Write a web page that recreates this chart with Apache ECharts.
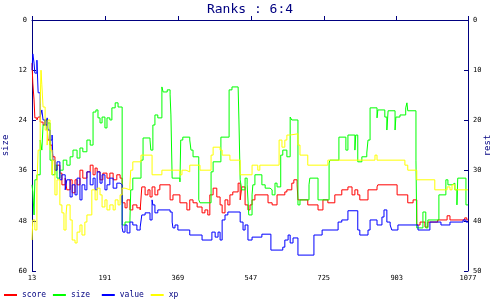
<!DOCTYPE html>
<html>
<head>
<meta charset="utf-8">
<script src="https://cdn.jsdelivr.net/npm/echarts@6/dist/echarts.min.js"></script>
<style>html,body{margin:0;padding:0;background:#fff}#c{width:500px;height:300px}</style>
</head>
<body>
<div id="c"></div>
<script>
var titleText = 'Ranks : 6:4';
var seriesNames = ['score', 'size', 'value', 'xp'];
var xTicks = [13, 191, 369, 547, 725, 903, 1077];
var leftTicks = [0, 12, 24, 36, 48, 60];
var rightTicks = [0, 10, 20, 30, 40, 50];

var scoreData = [[13,10.3],[15,15.1],[18,19.1],[20,23.4],[25,23.9],[28,23.2],[33,24.4],[40,25.1],[45,23.9],[50,25.6],[52,28.7],[57,29.9],[62,31.1],[64,32.7],[69,35.9],[74,34.7],[81,36.6],[86,39.4],[94,37.8],[98,40.6],[106,38.2],[111,41.3],[118,38.2],[123,39.4],[130,35.9],[137,37.8],[147,36.3],[155,34.7],[162,37.0],[167,35.4],[172,36.3],[179,38.2],[186,36.6],[196,37.8],[203,36.6],[211,38.2],[220,37.0],[228,37.8],[233,43.7],[240,44.9],[245,43.0],[252,45.4],[259,44.2],[269,44.9],[277,45.4],[281,39.9],[289,41.8],[296,40.6],[301,42.3],[306,39.9],[313,41.8],[320,40.6],[325,39.4],[350,43.0],[357,41.8],[374,43.7],[391,45.4],[398,43.0],[406,43.7],[416,44.7],[428,46.1],[435,45.4],[442,46.6],[447,41.8],[455,40.2],[464,42.3],[472,44.2],[477,46.1],[484,43.0],[491,44.2],[496,41.8],[503,41.1],[516,39.0],[521,43.0],[525,39.9],[533,44.2],[540,45.4],[545,44.2],[550,43.0],[557,41.8],[589,43.7],[599,44.2],[611,41.8],[630,41.1],[635,40.6],[647,39.0],[652,38.2],[660,39.4],[662,43.0],[686,44.2],[711,45.4],[723,43.0],[735,43.7],[752,41.8],[769,40.6],[784,39.9],[794,41.8],[801,40.6],[808,41.8],[813,43.0],[833,40.6],[855,39.9],[857,39.4],[904,41.8],[930,43.7],[943,43.0],[952,49.0],[960,48.3],[972,49.5],[979,48.3],[1003,47.8],[1026,46.8],[1033,47.8],[1069,47.3],[1074,47.8],[1077,47.8]];

var sizeData = [[13,39.4],[15,41.1],[18,46.6],[20,38.2],[25,37.0],[33,28.7],[37,31.1],[40,25.1],[45,23.9],[50,26.3],[52,24.6],[57,33.5],[62,37.0],[69,34.7],[74,37.8],[81,35.9],[89,33.5],[98,34.7],[106,32.7],[113,31.1],[123,33.0],[130,30.6],[137,31.5],[147,28.7],[155,29.9],[162,22.0],[169,21.5],[174,23.4],[179,24.6],[184,23.2],[191,25.8],[196,23.4],[203,23.9],[208,21.0],[216,19.8],[223,20.8],[233,49.0],[240,48.3],[252,47.8],[254,40.6],[259,37.8],[279,33.5],[284,28.2],[301,28.7],[303,31.1],[308,25.1],[313,22.7],[320,23.4],[330,16.0],[333,17.2],[343,16.7],[350,17.9],[352,22.7],[355,37.8],[374,38.7],[376,28.7],[381,28.0],[398,28.7],[401,31.1],[406,32.7],[420,43.0],[423,43.7],[450,36.3],[455,33.9],[474,28.0],[494,16.7],[501,16.0],[516,16.3],[518,23.9],[521,38.2],[525,40.6],[533,37.8],[538,39.4],[542,46.6],[550,41.8],[552,39.4],[557,37.0],[574,39.4],[582,40.2],[594,40.6],[599,41.8],[606,39.0],[611,39.9],[620,32.3],[625,31.1],[635,32.7],[643,23.2],[647,23.9],[662,44.2],[667,43.0],[689,39.4],[691,37.8],[711,43.0],[738,34.2],[740,33.5],[762,28.0],[779,31.1],[784,27.5],[801,31.1],[803,27.5],[808,33.9],[818,32.7],[830,31.8],[833,28.7],[838,21.0],[855,23.4],[857,21.5],[874,23.2],[879,26.3],[882,21.7],[899,26.3],[901,23.2],[911,22.7],[925,21.0],[928,19.8],[930,21.7],[950,33.5],[952,49.7],[967,45.9],[974,49.7],[979,47.8],[1006,41.8],[1023,38.2],[1028,39.4],[1038,39.0],[1045,40.6],[1050,44.2],[1052,37.8],[1072,44.2],[1077,44.2]];

var valueData = [[13,12.0],[15,8.1],[18,10.3],[20,12.7],[25,9.6],[28,17.4],[33,23.2],[37,21.5],[40,23.9],[45,25.1],[50,23.4],[52,26.3],[57,28.7],[62,27.5],[64,33.5],[69,35.9],[74,33.9],[81,38.2],[86,37.0],[94,40.6],[98,38.2],[106,42.3],[111,39.4],[118,41.8],[123,37.8],[130,43.0],[135,39.4],[142,40.6],[147,36.3],[155,39.4],[162,37.8],[167,40.6],[172,36.3],[179,39.0],[184,37.0],[191,40.6],[196,39.4],[203,37.8],[211,40.2],[220,39.0],[228,39.4],[233,49.7],[235,50.7],[240,49.0],[245,50.9],[252,48.3],[259,49.0],[269,50.2],[277,49.5],[281,46.6],[289,46.1],[301,47.8],[306,43.0],[308,44.2],[313,46.1],[320,45.4],[350,45.9],[355,48.3],[357,49.7],[362,49.0],[369,50.2],[398,51.4],[428,52.6],[452,50.7],[460,51.9],[467,50.7],[472,52.6],[477,47.8],[484,46.6],[491,45.9],[521,48.3],[528,50.2],[533,49.0],[540,52.6],[550,51.9],[574,51.2],[596,55.0],[625,54.3],[630,52.6],[638,51.4],[643,53.3],[650,52.1],[662,56.2],[701,51.4],[721,50.2],[760,48.3],[769,47.8],[784,45.6],[808,50.2],[813,51.4],[833,50.2],[838,47.8],[855,49.0],[867,47.1],[872,45.4],[879,48.3],[887,49.0],[891,50.2],[906,49.0],[955,50.2],[984,48.3],[1011,49.0],[1033,48.3],[1065,47.8],[1072,48.3],[1077,48.3]];

var xpData = [[13,52.6],[15,47.8],[20,50.2],[25,39.9],[28,31.1],[33,20.3],[35,12.0],[37,15.5],[40,20.8],[45,26.3],[50,29.9],[52,23.9],[57,31.1],[62,37.0],[64,33.5],[69,41.8],[74,38.2],[81,44.2],[86,46.1],[91,50.2],[96,46.6],[98,44.2],[106,47.8],[111,52.6],[118,53.3],[123,50.7],[130,49.0],[135,51.4],[142,48.3],[147,46.6],[159,40.6],[167,43.0],[172,40.2],[179,41.8],[184,44.7],[191,43.0],[196,45.4],[203,44.2],[211,45.4],[216,43.0],[223,44.2],[228,41.8],[233,40.2],[240,40.6],[252,39.4],[254,35.9],[259,33.9],[279,32.3],[306,37.0],[330,35.9],[374,37.0],[379,35.9],[389,36.3],[398,34.7],[423,35.9],[450,32.3],[455,30.4],[472,31.1],[477,32.3],[496,33.5],[521,37.0],[550,34.7],[564,35.9],[569,34.7],[616,28.7],[623,30.4],[630,28.7],[635,27.5],[643,27.2],[662,29.9],[667,32.3],[686,34.7],[735,33.5],[850,32.3],[855,33.5],[923,34.7],[930,35.9],[952,38.2],[996,40.6],[1026,39.9],[1033,40.6],[1038,39.4],[1045,40.6],[1077,40.6]];

var colors = ['#ff0000', '#00ff00', '#0000ff', '#ffff00'];
var navy = '#000080';
var mono = 'DejaVu Sans Mono';

var chart = echarts.init(document.getElementById('c'), null, {renderer: 'canvas'});
function mkSeries(name, data, color) {
  return {
    name: name, type: 'line', step: 'end', data: data,
    showSymbol: false, symbol: 'none', yAxisIndex: 0,
    lineStyle: {width: 1, color: color}, itemStyle: {color: color},
    animation: false, z: 2
  };
}
function plain(v) { return String(v); }
var axisCommon = {
  axisLine: {show: true, lineStyle: {color: navy, width: 1}},
  axisTick: {show: true, inside: true, length: 4, lineStyle: {color: navy}},
  splitLine: {show: false},
  axisLabel: {color: '#000', fontFamily: mono, fontSize: 7, margin: 5, formatter: plain}
};
chart.setOption({
  animation: false,
  backgroundColor: '#fff',
  title: {
    text: titleText, left: 'center', top: -2,
    textStyle: {fontFamily: mono, fontSize: 13, fontWeight: 'normal', color: navy}
  },
  legend: {
    data: seriesNames, left: 4, top: 291, orient: 'horizontal',
    icon: 'rect', itemWidth: 13, itemHeight: 2, itemGap: 2, padding: 0,
    formatter: function (n) { while (n.length < 6) n += ' '; return n; },
    textStyle: {fontFamily: mono, fontSize: 8, color: navy}
  },
  grid: {left: 32, right: 32, top: 20, bottom: 29, containLabel: false, outerBoundsMode: 'none'},
  xAxis: Object.assign({}, axisCommon, {
    type: 'value', min: 13, max: 1077,
    axisLabel: Object.assign({}, axisCommon.axisLabel, {customValues: xTicks, margin: 4, showMinLabel: true, showMaxLabel: true}),
    axisTick: Object.assign({}, axisCommon.axisTick, {customValues: xTicks})
  }),
  yAxis: [
    Object.assign({}, axisCommon, {
      type: 'value', position: 'left', inverse: true, min: 0, max: 60, interval: 12,
      name: 'size', nameLocation: 'middle', nameGap: 22, nameRotate: 90, nameMoveOverlap: false,
      nameTextStyle: {fontFamily: mono, fontSize: 9, color: navy}
    }),
    Object.assign({}, axisCommon, {
      type: 'value', position: 'right', inverse: true, min: 0, max: 50, interval: 10,
      name: 'rest', nameLocation: 'middle', nameGap: 15, nameRotate: 90, nameMoveOverlap: false,
      nameTextStyle: {fontFamily: mono, fontSize: 9, color: navy}
    })
  ],
  series: [
    mkSeries(seriesNames[0], scoreData, colors[0]),
    mkSeries(seriesNames[1], sizeData, colors[1]),
    mkSeries(seriesNames[2], valueData, colors[2]),
    mkSeries(seriesNames[3], xpData, colors[3])
  ]
});
</script>
</body>
</html>
